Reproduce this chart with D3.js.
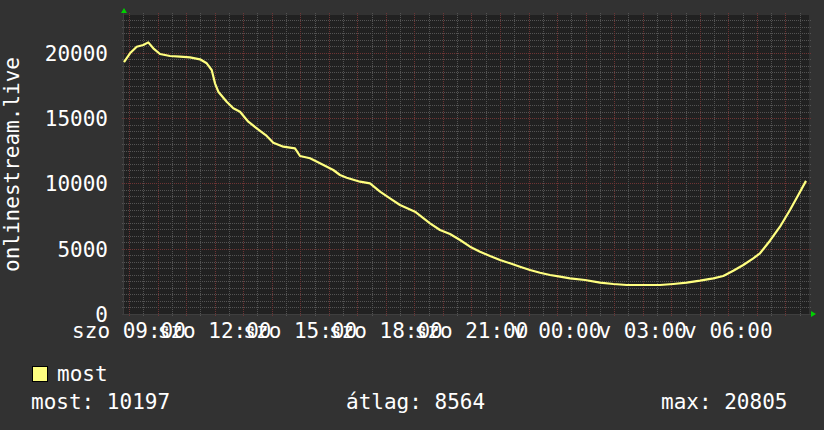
<!DOCTYPE html>
<html>
<head>
  <meta charset="UTF-8">
  <title>onlinestream.live</title>
  <script src="https://d3js.org/d3.v7.min.js"></script>
  <style>
    body { margin: 0; background: #323232; }
    svg text { font-family: "DejaVu Sans Mono", monospace; font-size: 21px; fill: #ffffff; }
  </style>
</head>
<body>
  <div id="chart"></div>
  <script>
    // saturday 08:49:30, 24 hours of data
    const startTime = new Date(2024, 5, 1, 8, 49, 30);
    const hours = [0, 0.21, 0.445, 0.676, 0.851, 1.027, 1.261, 1.612, 1.962, 2.312, 2.663, 2.898,
      3.073, 3.188, 3.304, 3.598, 3.83, 4.064, 4.355, 4.649, 5.0, 5.231, 5.582, 5.991, 6.167,
      6.517, 6.867, 7.333, 7.568, 7.803, 8.269, 8.619, 8.97, 9.32, 9.67, 10.196, 10.722, 11.072,
      11.422, 11.773, 12.123, 12.473, 12.824, 13.174, 13.524, 13.875, 14.225, 14.576, 14.926,
      15.276, 15.627, 16.152, 16.678, 17.144, 17.614, 18.195, 18.78, 19.246, 19.715, 20.181,
      20.647, 20.997, 21.348, 21.698, 22.048, 22.283, 22.633, 22.984, 23.334, 23.625, 23.895];
    const values = [19300, 19967, 20472, 20603, 20805, 20350, 19913, 19760, 19706, 19660, 19507, 19201,
      18688, 17669, 17026, 16260, 15755, 15494, 14728, 14223, 13633, 13120, 12814, 12691, 12101,
      11925, 11542, 11029, 10646, 10439, 10133, 10010, 9367, 8861, 8348, 7835, 6947, 6434,
      6127, 5668, 5154, 4771, 4442, 4135, 3883, 3622, 3370, 3163, 2987,
      2857, 2734, 2604, 2397, 2298, 2221, 2221, 2221, 2298, 2397, 2550,
      2734, 2910, 3316, 3753, 4266, 4649, 5614, 6686, 7965, 9114, 10197];
    const yTicks = [0, 5000, 10000, 15000, 20000];
    const dayNames = ["v", "h", "k", "sze", "cs", "p", "szo"];
    const seriesName = "most";
    const statLabels = ["most", "átlag", "max"];
    const statValues = [10197, 8564, 20805];

    const W = 824, H = 430;
    const plotL = 124, plotR = 809, plotT = 15, plotB = 314;

    const svg = d3.select("#chart").append("svg")
      .attr("width", W).attr("height", H);

    svg.append("rect").attr("width", W).attr("height", H).attr("fill", "#323232");
    svg.append("rect")
      .attr("x", plotL).attr("y", plotT)
      .attr("width", plotR - plotL).attr("height", plotB - plotT)
      .attr("fill", "#212121");

    const endTime = new Date(+startTime + 24 * 3600e3);
    const x = d3.scaleTime().domain([startTime, endTime]).range([plotL, plotR]);
    const y = d3.scaleLinear().domain([0, 22900]).range([plotB, plotT]);

    const data = hours.map((h, i) => ({ t: new Date(+startTime + h * 3600e3), v: values[i] }));

    const minorColor = "#535353", majorColor = "#6e3434";

    // horizontal grid
    const hLines = d3.range(500, 22900, 500);
    svg.append("g").attr("shape-rendering", "crispEdges").selectAll("line")
      .data(hLines)
      .enter().append("line")
      .attr("x1", plotL - 2).attr("x2", plotR + 2)
      .attr("y1", d => Math.round(y(d)) + 0.5).attr("y2", d => Math.round(y(d)) + 0.5)
      .attr("stroke", d => d % 5000 === 0 ? majorColor : minorColor)
      .attr("stroke-dasharray", "1,1");

    // vertical grid
    const vLines = d3.timeMinute.every(30).range(startTime, endTime);
    svg.append("g").attr("shape-rendering", "crispEdges").selectAll("line")
      .data(vLines)
      .enter().append("line")
      .attr("x1", d => Math.round(x(d)) + 0.5).attr("x2", d => Math.round(x(d)) + 0.5)
      .attr("y1", plotT - 2).attr("y2", plotB + 2)
      .attr("stroke", d => d.getMinutes() === 0 ? majorColor : minorColor)
      .attr("stroke-dasharray", "1,1");

    // axes
    svg.append("line")
      .attr("x1", plotL - 0.5).attr("x2", plotL - 0.5)
      .attr("y1", plotT - 2).attr("y2", plotB + 0.5)
      .attr("stroke", "#3e3e3e");
    svg.append("line")
      .attr("x1", plotL - 2).attr("x2", plotR + 2)
      .attr("y1", plotB + 0.5).attr("y2", plotB + 0.5)
      .attr("stroke", "#3e3e3e");
    svg.append("path")
      .attr("d", `M${plotL - 3},${plotT - 2}L${plotL + 3},${plotT - 2}L${plotL},${plotT - 7}Z`)
      .attr("fill", "#00d000");
    svg.append("path")
      .attr("d", `M${plotR + 2},${plotB - 3}L${plotR + 2},${plotB + 3}L${plotR + 7},${plotB}Z`)
      .attr("fill", "#00d000");

    // line
    const line = d3.line().x(d => x(d.t)).y(d => y(d.v));
    svg.append("path")
      .datum(data)
      .attr("d", line)
      .attr("fill", "none")
      .attr("stroke", "#ffff80")
      .attr("stroke-width", 2.2)
      .attr("stroke-linejoin", "round");

    // y labels
    svg.append("g").selectAll("text")
      .data(yTicks)
      .enter().append("text")
      .attr("x", 108)
      .attr("y", d => y(d) + 8)
      .attr("text-anchor", "end")
      .text(d => d);

    // x labels
    const fmt = d3.timeFormat("%H:%M");
    svg.append("g").selectAll("text")
      .data(d3.timeHour.every(3).range(startTime, endTime))
      .enter().append("text")
      .attr("x", d => x(d))
      .attr("y", 338)
      .attr("text-anchor", "middle")
      .text(d => dayNames[d.getDay()] + " " + fmt(d));

    // y title
    svg.append("text")
      .attr("transform", "translate(18.5," + ((plotT + plotB) / 2) + ") rotate(-90)")
      .attr("text-anchor", "middle")
      .text("onlinestream.live");

    // legend
    svg.append("rect")
      .attr("x", 32.5).attr("y", 366.5).attr("width", 15).attr("height", 15)
      .attr("fill", "#ffff80").attr("stroke", "#000");
    svg.append("text").attr("x", 57).attr("y", 381).text(seriesName);

    const statX = [31, 346, 661];
    svg.append("g").selectAll("text")
      .data(statLabels)
      .enter().append("text")
      .attr("x", (d, i) => statX[i])
      .attr("y", 409)
      .text((d, i) => d + ": " + statValues[i]);
  </script>
</body>
</html>
